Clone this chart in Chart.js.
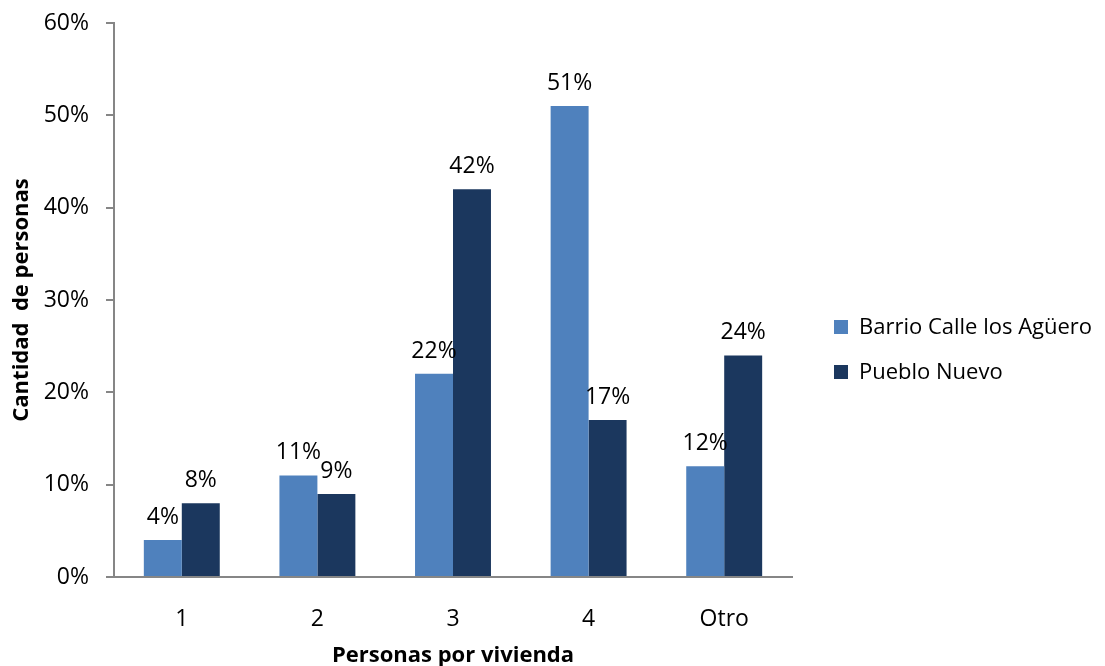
<!DOCTYPE html>
<html>
<head>
<meta charset="utf-8">
<script src="https://cdn.jsdelivr.net/npm/chart.js@4.4.1/dist/chart.umd.min.js"></script>
<style>
  html, body { margin: 0; padding: 0; background: #fff; }
  #wrap { width: 1105px; height: 666px; }
</style>
</head>
<body>
<div id="wrap"><canvas id="viviendaChart" width="1105" height="666"></canvas></div>
<script>
// Data
const categories = ['1', '2', '3', '4', 'Otro'];
const seriesNames = ['Barrio Calle los Agüero', 'Pueblo Nuevo'];
const barrioValues = [4, 11, 22, 51, 12];
const puebloValues = [8, 9, 42, 17, 24];
const yTickValues = [0, 10, 20, 30, 40, 50, 60];

const FONT = '"Open Sans", sans-serif';
const AXIS_GRAY = '#868686';

// Draws the value labels above each bar
const barLabels = {
    id: 'barLabels',
    afterDatasetsDraw(chart) {
        const ctx = chart.ctx;
        ctx.save();
        ctx.font = '23px ' + FONT;
        ctx.fillStyle = '#000';
        ctx.textAlign = 'center';
        ctx.textBaseline = 'alphabetic';
        chart.data.datasets.forEach((ds, i) => {
            chart.getDatasetMeta(i).data.forEach((bar, j) => {
                ctx.fillText(ds.data[j] + '%', bar.x, bar.y - 16);
            });
        });
        ctx.restore();
    }
};

// Legend on the right, drawn from the datasets
const sideLegend = {
    id: 'sideLegend',
    afterDraw(chart) {
        const ctx = chart.ctx;
        const area = chart.chartArea;
        const x = area.right + 42;
        let y = area.top + 304;
        ctx.save();
        ctx.font = '22px ' + FONT;
        ctx.textBaseline = 'middle';
        ctx.textAlign = 'left';
        chart.data.datasets.forEach(ds => {
            ctx.fillStyle = ds.backgroundColor;
            ctx.fillRect(x, y - 7, 14, 14);
            ctx.fillStyle = '#000';
            ctx.fillText(ds.label, x + 25, y + 1);
            y += 45;
        });
        ctx.restore();
    }
};

const ctx = document.getElementById('viviendaChart').getContext('2d');
const viviendaChart = new Chart(ctx, {
    type: 'bar',
    data: {
        labels: categories,
        datasets: [
            {
                label: seriesNames[0],
                data: barrioValues,
                backgroundColor: '#4F81BD',
                categoryPercentage: 0.56,
                barPercentage: 1.0
            },
            {
                label: seriesNames[1],
                data: puebloValues,
                backgroundColor: '#1B375E',
                categoryPercentage: 0.56,
                barPercentage: 1.0
            }
        ]
    },
    options: {
        responsive: false,
        animation: false,
        devicePixelRatio: 1,
        layout: {
            padding: { top: 23, right: 313, bottom: 0, left: 0 }
        },
        scales: {
            x: {
                afterFit(scale) {
                    scale.height = 89;
                },
                grid: { drawOnChartArea: false, drawTicks: false },
                border: { color: AXIS_GRAY, width: 2 },
                ticks: {
                    color: '#000',
                    padding: 29,
                    font: { family: FONT, size: 23 }
                },
                title: {
                    display: true,
                    text: 'Personas por vivienda',
                    color: '#000',
                    padding: { top: 4, bottom: -3 },
                    font: { family: FONT, size: 22, weight: 'bold' }
                }
            },
            y: {
                min: 0,
                max: 60,
                afterBuildTicks(scale) {
                    scale.ticks = yTickValues.map(v => ({ value: v }));
                },
                afterFit(scale) {
                    scale.width = 114;
                    scale.paddingTop = 0;
                    scale.paddingBottom = 0;
                },
                grid: {
                    drawOnChartArea: false,
                    drawTicks: true,
                    tickLength: 8,
                    color: AXIS_GRAY,
                    lineWidth: 2
                },
                border: { color: AXIS_GRAY, width: 2 },
                ticks: {
                    color: '#000',
                    padding: 17,
                    font: { family: FONT, size: 23 },
                    callback: function(value) {
                        return value + '%';
                    }
                },
                title: {
                    display: true,
                    text: 'Cantidad  de personas',
                    color: '#000',
                    padding: { top: 9, bottom: 0 },
                    font: { family: FONT, size: 22, weight: 'bold' }
                }
            }
        },
        plugins: {
            legend: { display: false },
            tooltip: { enabled: false }
        }
    },
    plugins: [barLabels, sideLegend]
});
</script>
</body>
</html>
